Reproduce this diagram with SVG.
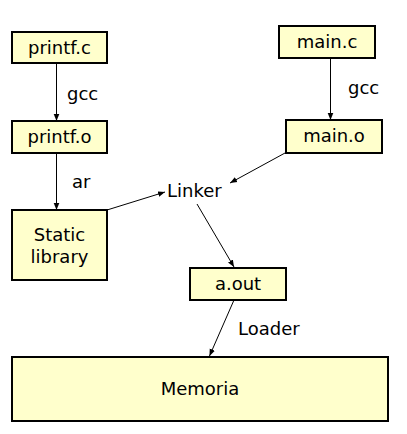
<svg xmlns="http://www.w3.org/2000/svg" width="407" height="434" viewBox="0 0 407 434">
<style>
.box{fill:#ffffcc;stroke:#000;stroke-width:2}
.t{font-family:"DejaVu Sans",sans-serif;font-size:18px;fill:#000}
.c{text-anchor:middle}
.e{stroke:#000;stroke-width:1;fill:none;marker-end:url(#ah)}
</style>
<defs>
<marker id="ah" viewBox="0 0 10 10" refX="10" refY="5" markerWidth="7" markerHeight="7" markerUnits="userSpaceOnUse" orient="auto">
<path d="M0,1 L10,5 L0,9 z" fill="#000"/>
</marker>
</defs>
<rect width="407" height="434" fill="#fff"/>
<g id="connectors">
<line class="e" x1="56.5" y1="64" x2="56.5" y2="121"/>
<line class="e" x1="330.5" y1="58" x2="330.5" y2="120"/>
<line class="e" x1="56.5" y1="153" x2="56.5" y2="210"/>
<line class="e" x1="285" y1="153" x2="230" y2="183"/>
<line class="e" x1="107" y1="210" x2="165" y2="192"/>
<line class="e" x1="197" y1="204" x2="234" y2="267"/>
<line class="e" x1="234" y1="300" x2="209.5" y2="356"/>
<text class="t" x="67" y="100">gcc</text>
<text class="t" x="348" y="94">gcc</text>
<text class="t" x="72" y="188">ar</text>
<text class="t" x="238" y="335">Loader</text>
</g>
<g id="printf_c"><rect class="box" x="12" y="32" width="95" height="31"/><text class="t c" x="59.5" y="54">printf.c</text></g>
<g id="printf_o"><rect class="box" x="12" y="121" width="95" height="32"/><text class="t c" x="59.5" y="143">printf.o</text></g>
<g id="main_c"><rect class="box" x="279" y="26" width="96" height="32"/><text class="t c" x="327" y="48">main.c</text></g>
<g id="main_o"><rect class="box" x="286" y="120" width="96" height="33"/><text class="t c" x="334" y="142">main.o</text></g>
<g id="linker"><text class="t" x="167" y="197">Linker</text></g>
<g id="static_library"><rect class="box" x="12" y="210" width="95" height="70"/><text class="t c" x="59.5" y="241">Static</text><text class="t c" x="59.5" y="263">library</text></g>
<g id="a_out"><rect class="box" x="190" y="268" width="96" height="32"/><text class="t c" x="238" y="290">a.out</text></g>
<g id="memoria"><rect class="box" x="12" y="357" width="376" height="64"/><text class="t c" x="200" y="395">Memoria</text></g>
</svg>
